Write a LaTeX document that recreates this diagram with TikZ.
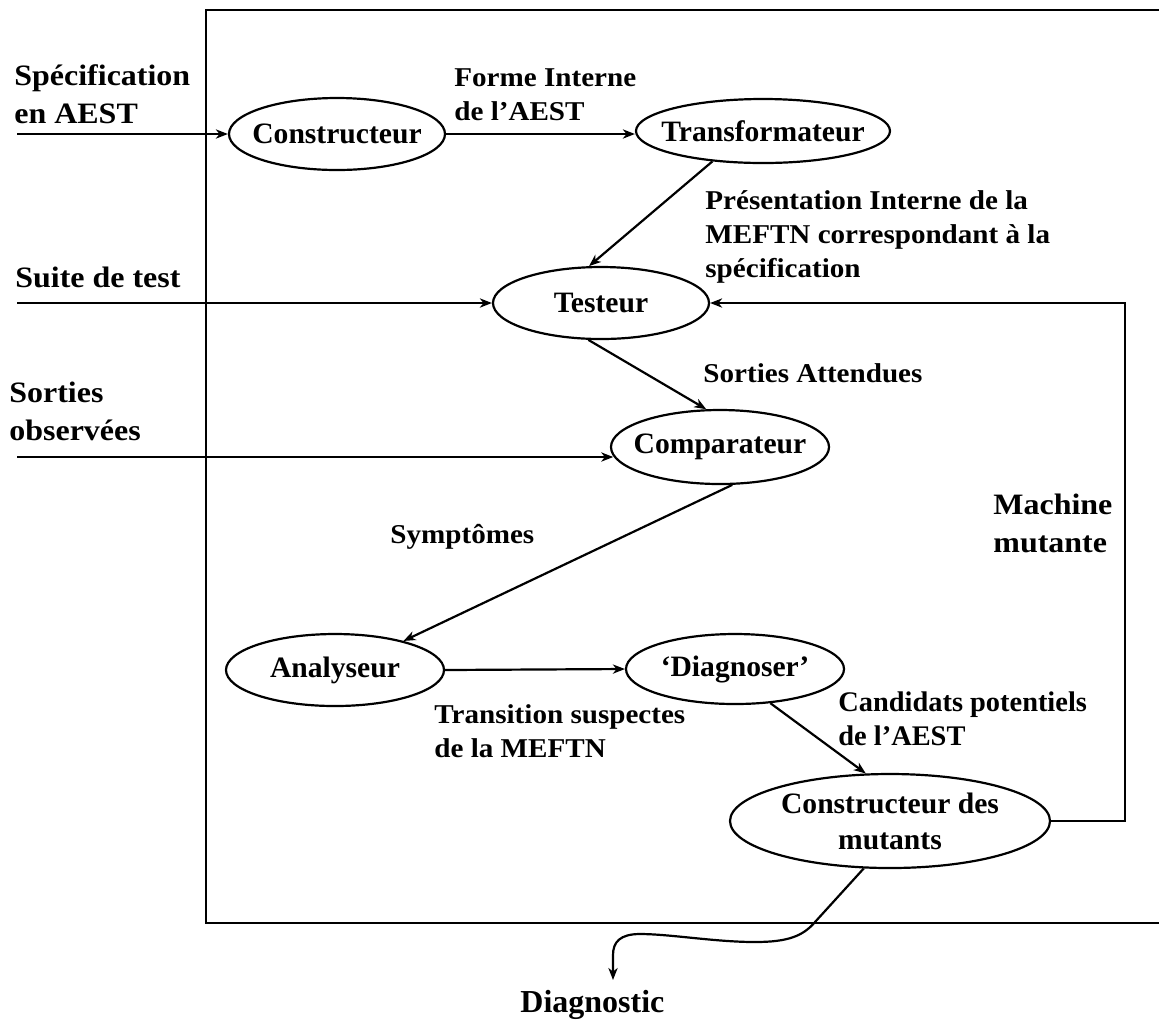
\documentclass[tikz,border=0pt]{standalone}
\usepackage{fontspec}
\setmainfont{Liberation Serif}
% slightly widened faces for the side labels and the flow labels
\newfontfamily\sidefont[FakeStretch=1.08]{Liberation Serif}
\newfontfamily\flowfont[FakeStretch=1.07]{Liberation Serif}
\usetikzlibrary{shapes.geometric,arrows.meta}
% zero-width box so that the ellipse size is set by its own dimensions only
\newcommand{\ctrtext}[1]{\makebox[0pt]{#1}}
\begin{document}
\begin{tikzpicture}[x=0.5pt,y=-0.5pt,
  every node/.style={font=\bfseries\fontsize{14.8}{18}\selectfont},
  proc/.style={ellipse, draw, line width=1.1pt, inner sep=0pt, align=center},
  % labels are placed at the baseline of their last line
  lbl/.style={anchor=base west, inner sep=0pt, align=left},
  side/.style={lbl, font=\sidefont\bfseries\fontsize{14.8}{19}\selectfont},
  flowlbl/.style={lbl, font=\flowfont\bfseries\fontsize{13.6}{16.8}\selectfont},
  flow/.style={line width=1.1pt, -{Stealth[length=6pt,width=4.6pt,inset=1.8pt]}},
  frame/.style={line width=1.1pt}
]
\useasboundingbox (0,0) rectangle (1159,1019);
\fill[white] (0,0) rectangle (1159,1019);

% system boundary
\draw[frame] (1159,10) -- (206,10) -- (206,923) -- (1159,923);

% processes
\node[proc, minimum width=108pt, minimum height=36pt] (cons) at (337,134) {\ctrtext{Constructeur}};
\node[proc, minimum width=127pt, minimum height=32pt] (trans) at (763,131) {\ctrtext{Transformateur}};
\node[proc, minimum width=108pt, minimum height=36pt] (test) at (601,303) {\ctrtext{Testeur}};
\node[proc, minimum width=109pt, minimum height=37pt] (comp) at (720,447) {\ctrtext{Comparateur}};
\node[proc, minimum width=109pt, minimum height=36pt] (anal) at (335,670) {\ctrtext{Analyseur}};
\node[proc, minimum width=109pt, minimum height=35pt] (diag) at (735,669) {\ctrtext{‘Diagnoser’}};
\node[proc, minimum width=160pt, minimum height=47pt] (mut) at (890,821) {\ctrtext{Constructeur des}\\\ctrtext{mutants}};

% side labels
\node[side] (lspec) at (14,123) {Spécification\\en AEST};
\node[side] (lsuite) at (15,287) {Suite de test};
\node[side] (lobs) at (9,440) {Sorties\\observées};
\node[side] (lmach) at (993,552) {Machine\\mutante};

% flow labels
\node[flowlbl] (lforme) at (454,120) {Forme Interne\\de l’AEST};
\node[flowlbl] (lpres) at (705,277) {Présentation Interne de la\\MEFTN correspondant à la\\spécification};
\node[flowlbl] (latt) at (703,382) {Sorties Attendues};
\node[flowlbl] (lsym) at (390,543) {Symptômes};
\node[flowlbl] (ltrans) at (434,757) {Transition suspectes\\de la MEFTN};
\node[lbl, font=\bfseries\fontsize{14.2}{16.8}\selectfont] (lcand) at (838,745) {Candidats potentiels\\de l’AEST};
\node[lbl, font=\bfseries\fontsize{16}{19}\selectfont] (ldiag) at (520,1012) {Diagnostic};

% external inputs
\coordinate (s1) at (17,134);
\coordinate (s2) at (17,303);
\coordinate (s3) at (17,457);
\draw[flow] (s1) -- (cons.west);
\draw[flow] (s2) -- (test.west);
\draw[flow] (s3) -- (s3 -| comp.185);

% internal flows
\draw[flow] (cons.east) -- (cons.east -| trans.west);
\draw[flow] (trans.211) -- (test.108);
\draw[flow] (test.251) -- (comp.110);
\draw[flow] (comp.288) -- (anal.23);
\draw[flow] (anal.east) -- (diag.west);
\draw[flow] (diag.316) -- (mut.117);

% feedback loop
\coordinate (loop) at (1125,303);
\draw[flow] (mut.east) -| (loop) -- (test.east);

% output
\coordinate (dtip) at (613,980);
\draw[flow] (mut.241) -- (815,922) .. controls (803,936) and (788,942) .. (755,942)
  .. controls (715,942) and (670,934) .. (640,934)
  .. controls (620,934) and (613,942) .. (613,955) -- (dtip);
\end{tikzpicture}
\end{document}
